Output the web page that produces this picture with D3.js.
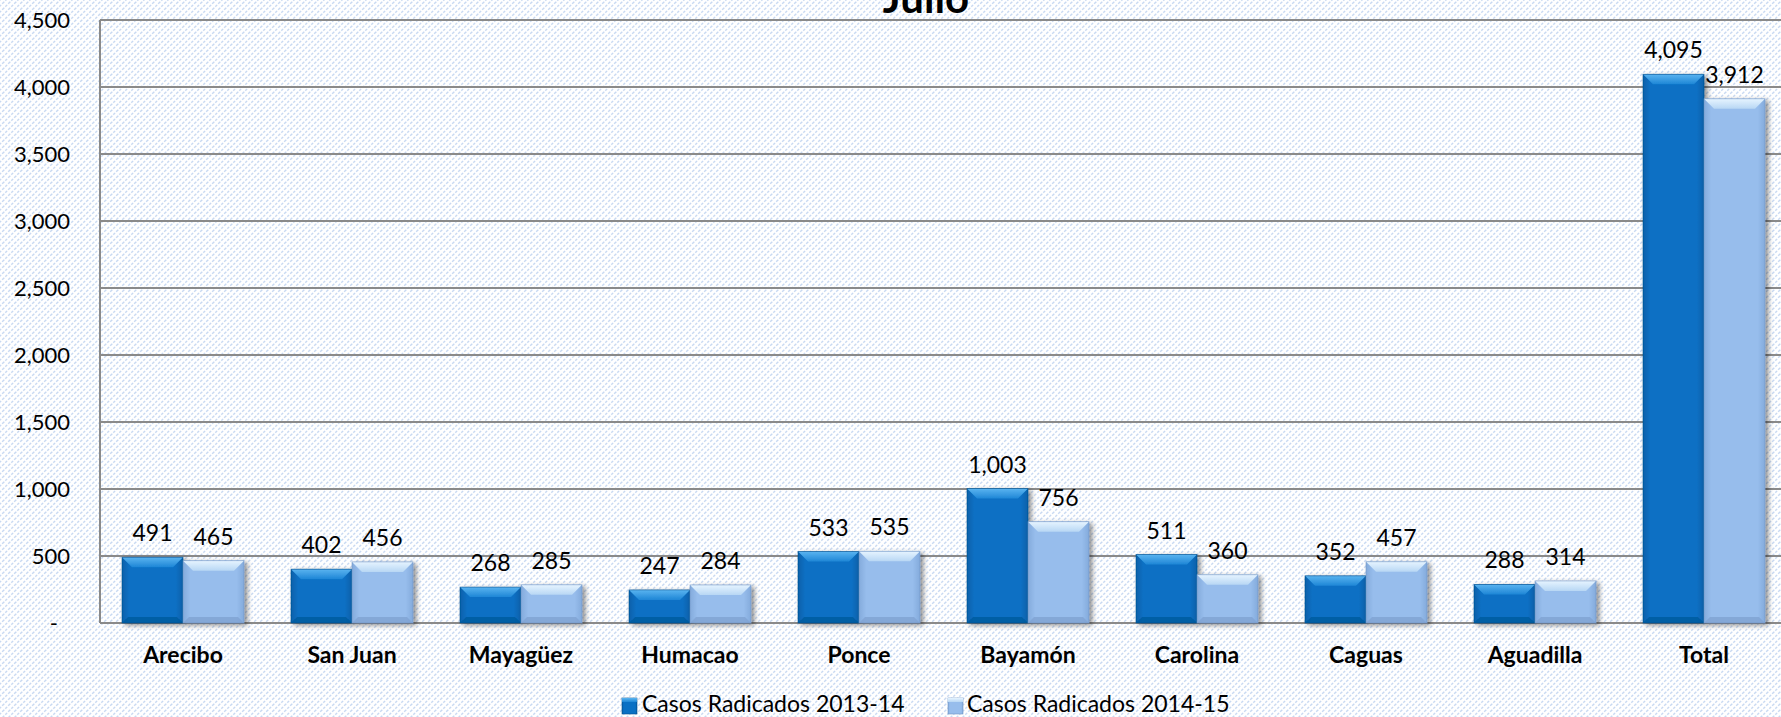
<!DOCTYPE html>
<html>
<head>
<meta charset="utf-8">
<script src="https://cdn.jsdelivr.net/npm/d3@7"></script>
<style>
html,body{margin:0;padding:0;background:#fff;overflow:hidden;}
svg{display:block;}
text{font-family:Lato,"Open Sans",sans-serif;fill:#000;}
</style>
</head>
<body>
<svg id="chart" width="1781" height="717"></svg>
<script>
const categories = ["Arecibo","San Juan","Mayagüez","Humacao","Ponce","Bayamón","Carolina","Caguas","Aguadilla","Total"];
const series2013 = [491,402,268,247,533,1003,511,352,288,4095];
const series2014 = [465,456,285,284,535,756,360,457,314,3912];
const seriesNames = ["Casos Radicados 2013-14","Casos Radicados 2014-15"];
const yTicks = [0,500,1000,1500,2000,2500,3000,3500,4000,4500];
const title = "Julio";

const W = 1781, H = 717;
const svg = d3.select("#chart");
const defs = svg.append("defs");

// background hatch pattern
const pat = defs.append("pattern").attr("id","hatch").attr("patternUnits","userSpaceOnUse")
  .attr("width",6).attr("height",6);
pat.append("rect").attr("width",6).attr("height",6).attr("fill","#ffffff");
pat.append("path").attr("d","M-1,7 L7,-1 M-1,1 L1,-1 M5,7 L7,5")
  .attr("stroke","#c8d9f2").attr("stroke-width",1.4).attr("stroke-dasharray","3,1.5");
svg.append("rect").attr("width",W).attr("height",H).attr("fill","url(#hatch)");

const plot = {left:100, top:20, right:1781, bottom:623};
const x = d3.scaleBand().domain(categories).range([98.5, 1788.5]).paddingInner(0).paddingOuter(0);
const y = d3.scaleLinear().domain([0,4500]).range([plot.bottom, plot.top]);

// gridlines
const g = svg.append("g");
g.selectAll("line.grid").data(yTicks).join("line")
  .attr("x1",plot.left).attr("x2",plot.right)
  .attr("y1",d=>y(d)).attr("y2",d=>y(d))
  .attr("stroke","#8a8a8a").attr("stroke-width",2);
g.append("line").attr("x1",plot.left).attr("x2",plot.left).attr("y1",plot.top).attr("y2",plot.bottom)
  .attr("stroke","#8a8a8a").attr("stroke-width",2);

// y axis labels
const yAxis = d3.axisLeft(y).tickValues(yTicks).tickSize(0).tickPadding(0)
  .tickFormat(d => d === 0 ? "-" : d3.format(",")(d));
const ya = svg.append("g").attr("transform","translate(70,0)").call(yAxis);
ya.select(".domain").remove();
ya.selectAll("text").attr("font-size",22).attr("fill","#000")
  .style("font-family","Lato, sans-serif").attr("dy","0.36em");
ya.selectAll(".tick").filter(d=>d===0).select("text").attr("transform","translate(-12,0)");

// gradients for bars
function makeGrad(id, stops, x2, y2){
  const gr = defs.append("linearGradient").attr("id",id).attr("x1",0).attr("y1",0).attr("x2",x2).attr("y2",y2);
  stops.forEach(s=>gr.append("stop").attr("offset",s[0]).attr("stop-color",s[1]));
}
const palettes = [
  {base:"#0a70c4", top:["#5ab4f0","#1e86d6"], side:"#0760aa", bottom:"#055a9e", edge:"#064f8c"},
  {base:"#97bdec", top:["#e6f4ff","#b8d7f4"], side:"#84abdc", bottom:"#7fa3d2", edge:"#6f94c4"}
];
palettes.forEach((p,i)=>{
  makeGrad("topg"+i,[[0,p.top[0]],[1,p.top[1]]],0,1);
  makeGrad("body"+i,[[0,p.side],[0.12,p.base],[0.88,p.base],[1,p.side]],1,0);
});
const shadow = defs.append("filter").attr("id","shadow").attr("x","-20%").attr("y","-20%").attr("width","140%").attr("height","140%");
shadow.append("feGaussianBlur").attr("in","SourceAlpha").attr("stdDeviation",2.5);
shadow.append("feOffset").attr("dx",3).attr("dy",2).attr("result","b");
shadow.append("feComponentTransfer").append("feFuncA").attr("type","linear").attr("slope",0.45);
const fm = shadow.append("feMerge"); fm.append("feMergeNode"); fm.append("feMergeNode").attr("in","SourceGraphic");

const pairFrac = 122/169;
const bw = x.bandwidth()*pairFrac/2;
const seriesList = [series2013, series2014];
const bars = svg.append("g");
seriesList.forEach((vals, si)=>{
  const p = palettes[si];
  categories.forEach((c, ci)=>{
    const v = vals[ci];
    const x0 = x(c) + (x.bandwidth() - 2*bw)/2 + si*bw;
    const y0 = y(v), y1 = y(0);
    const h = y1 - y0;
    const bev = Math.min(10, h/3);
    const gb = bars.append("g").attr("filter","url(#shadow)");
    gb.append("rect").attr("x",x0).attr("y",y0).attr("width",bw).attr("height",h).attr("fill","url(#body"+si+")");
    gb.append("path").attr("d",`M${x0},${y0} L${x0+bw},${y0} L${x0+bw-bev},${y0+bev} L${x0+bev},${y0+bev} Z`)
      .attr("fill","url(#topg"+si+")");
    gb.append("path").attr("d",`M${x0},${y1} L${x0+bw},${y1} L${x0+bw-bev*0.6},${y1-bev*0.6} L${x0+bev*0.6},${y1-bev*0.6} Z`)
      .attr("fill",p.bottom).attr("opacity",0.8);
    gb.append("rect").attr("x",x0).attr("y",y0).attr("width",bw).attr("height",h)
      .attr("fill","none").attr("stroke",p.edge).attr("stroke-width",0.8).attr("opacity",0.7);
  });
});

// value labels
const lbl = svg.append("g");
seriesList.forEach((vals, si)=>{
  lbl.selectAll("text.v"+si).data(vals).join("text")
    .attr("x",(d,i)=> x(categories[i]) + (x.bandwidth()-2*bw)/2 + si*bw + bw/2)
    .attr("y",d=> y(d) - 16)
    .attr("text-anchor","middle").attr("font-size",23)
    .text(d=>d3.format(",")(d));
});

// category labels
const xAxis = d3.axisBottom(x).tickSize(0).tickPadding(0);
const xa = svg.append("g").attr("transform","translate(0,663)").call(xAxis);
xa.select(".domain").remove();
xa.selectAll("text").attr("font-size",23).attr("font-weight","bold").attr("fill","#000")
  .style("font-family","Lato, sans-serif").attr("dy","0");

// title
svg.append("text").attr("x",926).attr("y",13).attr("text-anchor","middle")
  .attr("font-size",42).attr("font-weight","bold").text(title);

// legend
const legendX = [622, 948];
const leg = svg.append("g");
seriesNames.forEach((n,i)=>{
  const p = palettes[i];
  const gg = leg.append("g").attr("transform",`translate(${legendX[i]},0)`);
  gg.append("rect").attr("x",0).attr("y",698).attr("width",15).attr("height",16).attr("fill","url(#body"+i+")")
    .attr("stroke",p.edge).attr("stroke-width",0.6);
  gg.append("rect").attr("x",0).attr("y",698).attr("width",15).attr("height",4).attr("fill","url(#topg"+i+")");
  gg.append("text").attr("x",i===0?20:19).attr("y",712).attr("font-size",23).text(n);
});
</script>
</body>
</html>
